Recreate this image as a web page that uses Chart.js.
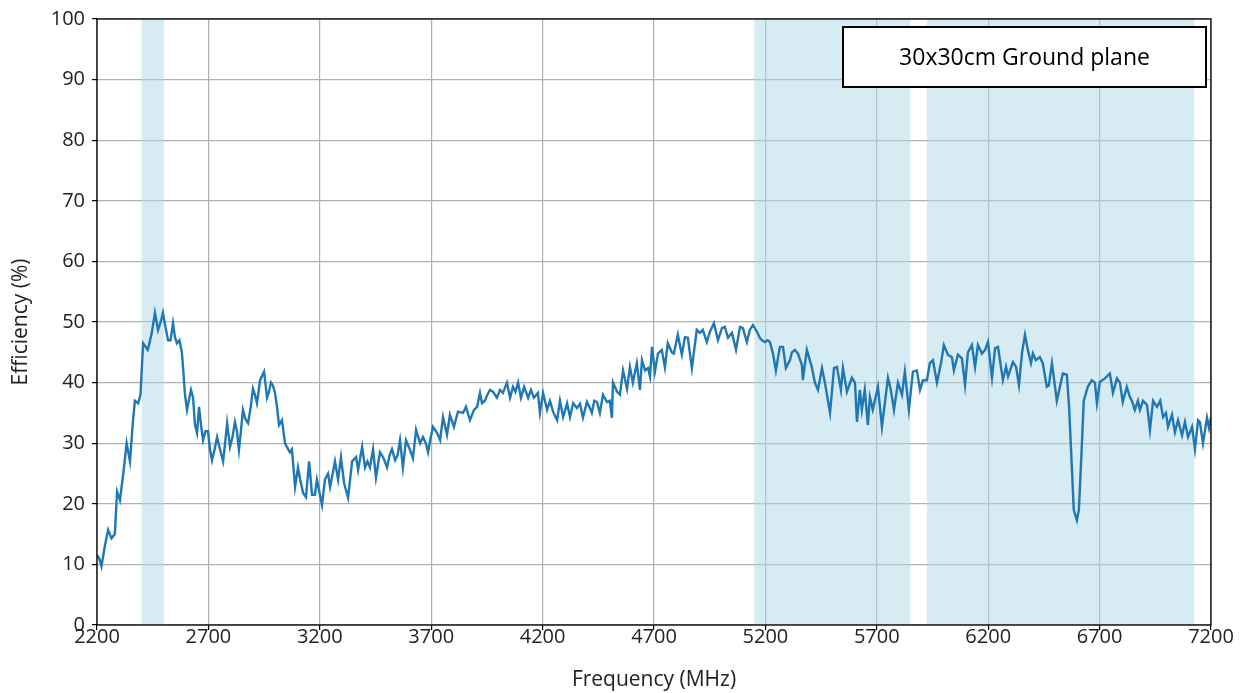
<!DOCTYPE html>
<html>
<head>
<meta charset="utf-8">
<script src="https://cdn.jsdelivr.net/npm/chart.js@4.4.1/dist/chart.umd.min.js"></script>
<style>
  html, body { margin: 0; padding: 0; background: #fff; }
  #wrap { width: 1250px; height: 693px; }
</style>
</head>
<body>
<div id="wrap"><canvas id="myChart" width="1250" height="693"></canvas></div>
<script>
// frequency points (MHz)
const freq = [
  2200, 2210, 2220, 2235, 2250, 2265, 2280, 2290, 2303, 2318, 2333, 2348, 2360, 2370, 2385, 2395,
  2407, 2428, 2445, 2460, 2474, 2486, 2496, 2508, 2519, 2530, 2541, 2550, 2559, 2570, 2581, 2586,
  2595, 2604, 2612, 2622, 2631, 2640, 2649, 2658, 2667, 2676, 2687, 2698, 2707, 2716, 2728, 2739,
  2752, 2766, 2775, 2784, 2797, 2808, 2819, 2828, 2837, 2846, 2855, 2866, 2878, 2890, 2900, 2909,
  2918, 2932, 2950, 2963, 2972, 2981, 2990, 2999, 3008, 3017, 3030, 3044, 3052, 3066, 3075, 3089,
  3102, 3112, 3125, 3138, 3152, 3165, 3178, 3187, 3198, 3210, 3223, 3237, 3246, 3258, 3268, 3282,
  3295, 3309, 3327, 3345, 3363, 3372, 3390, 3403, 3414, 3425, 3439, 3452, 3470, 3484, 3502, 3513,
  3524, 3538, 3549, 3560, 3573, 3587, 3605, 3618, 3632, 3650, 3663, 3676, 3686, 3698, 3708, 3726,
  3740, 3753, 3771, 3784, 3802, 3820, 3843, 3856, 3874, 3892, 3906, 3919, 3928, 3941, 3952, 3964,
  3977, 3995, 4009, 4022, 4040, 4054, 4067, 4078, 4090, 4103, 4117, 4135, 4148, 4161, 4179, 4188,
  4202, 4220, 4233, 4247, 4265, 4278, 4292, 4310, 4323, 4337, 4354, 4368, 4381, 4399, 4410, 4421,
  4432, 4444, 4457, 4471, 4489, 4502, 4511, 4516, 4534, 4547, 4561, 4579, 4592, 4605, 4623, 4637,
  4646, 4660, 4673, 4682, 4691, 4704, 4718, 4735, 4749, 4762, 4780, 4789, 4807, 4825, 4839, 4852,
  4870, 4892, 4906, 4919, 4937, 4951, 4969, 4987, 5005, 5018, 5032, 5050, 5068, 5086, 5099, 5117,
  5130, 5144, 5162, 5176, 5185, 5198, 5210, 5220, 5234, 5247, 5265, 5279, 5292, 5310, 5319, 5332,
  5346, 5364, 5368, 5386, 5408, 5422, 5436, 5454, 5467, 5490, 5508, 5521, 5539, 5548, 5566, 5588,
  5602, 5611, 5624, 5633, 5646, 5660, 5669, 5682, 5705, 5723, 5750, 5763, 5777, 5795, 5813, 5826,
  5844, 5862, 5880, 5894, 5907, 5925, 5938, 5952, 5970, 5988, 6001, 6019, 6037, 6046, 6064, 6082,
  6096, 6109, 6127, 6141, 6154, 6172, 6186, 6199, 6217, 6231, 6244, 6266, 6280, 6289, 6311, 6325,
  6338, 6352, 6365, 6378, 6392, 6401, 6414, 6432, 6445, 6463, 6472, 6486, 6508, 6522, 6535, 6553,
  6563, 6576, 6584, 6598, 6607, 6620, 6629, 6647, 6665, 6679, 6688, 6701, 6724, 6746, 6760, 6778,
  6791, 6804, 6822, 6836, 6845, 6858, 6872, 6881, 6895, 6913, 6926, 6940, 6958, 6972, 6985, 6998,
  7007, 7025, 7038, 7052, 7070, 7083, 7097, 7115, 7128, 7142, 7150, 7164, 7182, 7191, 7200
];

// efficiency (%) at each frequency
const efficiency = [
  11.5, 11, 9.7, 13, 15.7, 14.3, 15, 22, 20.6, 25, 30, 27, 33, 37, 36.6, 38,
  46.5, 45.4, 48, 51.5, 48.7, 50, 51.5, 49, 47, 47, 49.8, 47.5, 46.5, 47, 45, 42.6,
  38, 35.5, 37, 38.8, 37.6, 33, 31.7, 36, 33, 30.5, 32, 32, 29, 27.2, 29, 31,
  29, 27, 30, 33.3, 29.4, 31, 33.5, 32, 28.9, 32, 35.5, 34, 33.3, 36, 39, 38,
  36.6, 40.4, 41.8, 37.5, 38.5, 40, 39.5, 38.3, 36, 33, 33.8, 30, 29.4, 28.5, 29, 22.8,
  26, 24, 21.8, 21.1, 27, 21.5, 21.5, 24, 22, 19.8, 24, 25, 22.8, 25, 27, 24,
  27.7, 23.4, 21, 27, 27.7, 25.6, 29.4, 26, 27, 26, 29, 24.3, 28.5, 27.7, 26, 28,
  29, 27.2, 28, 30.5, 26, 30.5, 28.9, 27.5, 32.2, 30, 31, 30, 28.5, 31, 32.7, 31.7,
  30.5, 34.3, 31.4, 34.7, 32.7, 35.2, 35, 36, 33.8, 35.5, 36, 38.3, 36.6, 37, 38, 38.8,
  38.5, 37.5, 38.8, 38.3, 40, 37.5, 39.3, 38.5, 40, 37.5, 39.3, 37.5, 38.8, 37.5, 38.3, 35,
  38.3, 35.5, 37, 35.2, 33.8, 37, 34.3, 36.6, 34.3, 36.6, 35.8, 36.5, 34.2, 36.8, 36, 35,
  37, 36.8, 35, 38, 36.8, 37, 34.2, 40, 38.5, 38, 42, 39, 42.6, 40, 43.2, 38.8,
  43.7, 42, 42.4, 41, 45.9, 41.8, 44.8, 45.4, 42.5, 46.5, 45, 44.8, 47.9, 44.6, 47.5, 47.4,
  42.4, 48.7, 48.2, 48.7, 46.7, 48.4, 49.8, 47, 49, 49.2, 47.4, 48.2, 45.4, 49.2, 49, 46.7,
  48.7, 49.5, 48.4, 47.3, 47, 46.7, 47, 46.7, 44.8, 42, 45.9, 45.9, 42.4, 43.7, 45, 45.4,
  44.8, 42.9, 40.4, 45.4, 42.6, 40, 38.8, 42.4, 40, 35, 42.4, 42.6, 38.8, 42.4, 38.5, 40.8,
  40, 33.5, 38.8, 35.5, 38.8, 33, 37.6, 35.5, 39.3, 32.7, 40.8, 38.8, 35.5, 40, 38, 41.8,
  35.5, 41.8, 42, 38.8, 40.4, 40.4, 43.2, 43.7, 40, 43.2, 46.2, 44.6, 44.2, 42, 44.6, 44,
  39.6, 45, 46.2, 42.6, 46.2, 44.8, 45.4, 46.7, 40.8, 45.7, 45.9, 40.4, 42.6, 41, 43.4, 42.6,
  39.6, 45, 47.9, 45.4, 43.2, 44.8, 43.7, 44.2, 43.2, 39.3, 39.5, 43.2, 37, 39.3, 41.5, 41.3,
  36, 25.6, 19, 17.3, 19, 29.4, 37, 39.3, 40.4, 40, 36.6, 40.1, 40.7, 41.5, 38.3, 40.7,
  40, 36.8, 39.3, 37.6, 37, 35.5, 37, 35.5, 37, 36.3, 32.2, 37, 36, 37, 34.3, 35,
  32.7, 34.7, 31.8, 33.8, 31.3, 33.5, 31, 32.7, 29, 33.8, 33.5, 30, 34.2, 32.5, 34.3
];

// shaded frequency bands [start, end] in MHz
const bandStart = [2400, 5150, 5925];
const bandEnd = [2500, 5850, 7125];

const xTicks = [2200, 2700, 3200, 3700, 4200, 4700, 5200, 5700, 6200, 6700, 7200];
const yTicks = [0, 10, 20, 30, 40, 50, 60, 70, 80, 90, 100];

const boxText = "30x30cm Ground plane";

const points = freq.map((f, i) => ({ x: f, y: efficiency[i] }));

// light blue spans behind the line
const bandsPlugin = {
  id: "bands",
  beforeDatasetsDraw(chart) {
    const { ctx, chartArea, scales } = chart;
    ctx.save();
    ctx.fillStyle = "rgba(173, 216, 230, 0.5)";
    for (let i = 0; i < bandStart.length; i++) {
      const x0 = scales.x.getPixelForValue(bandStart[i]);
      const x1 = scales.x.getPixelForValue(bandEnd[i]);
      ctx.fillRect(x0, chartArea.top, x1 - x0, chartArea.bottom - chartArea.top);
    }
    ctx.restore();
  }
};

// frame round the plot and the text box top right
const framePlugin = {
  id: "frame",
  afterDraw(chart) {
    const { ctx, chartArea } = chart;
    ctx.save();
    ctx.strokeStyle = "#000";
    ctx.lineWidth = 1.3;
    ctx.strokeRect(chartArea.left, chartArea.top, chartArea.right - chartArea.left, chartArea.bottom - chartArea.top);

    const bx = chartArea.right - 368, by = chartArea.top + 8, bw = 363, bh = 60;
    ctx.fillStyle = "#fff";
    ctx.fillRect(bx, by, bw, bh);
    ctx.lineWidth = 2;
    ctx.strokeRect(bx, by, bw, bh);
    ctx.fillStyle = "#000";
    ctx.font = "23px 'Open Sans', sans-serif";
    ctx.textAlign = "center";
    ctx.textBaseline = "middle";
    ctx.fillText(boxText, bx + bw / 2, by + bh / 2 + 1);
    ctx.restore();
  }
};

new Chart(document.getElementById("myChart").getContext("2d"), {
  type: "line",
  data: {
    datasets: [
      {
        label: "Efficiency",
        data: points,
        borderColor: "#1f77b4",
        borderWidth: 2.4,
        pointRadius: 0,
        tension: 0,
        fill: false
      }
    ]
  },
  options: {
    responsive: false,
    animation: false,
    layout: { padding: { top: 19, right: 39, left: 0, bottom: 0 } },
    plugins: {
      legend: { display: false },
      tooltip: { enabled: false }
    },
    scales: {
      x: {
        type: "linear",
        min: 2200,
        max: 7200,
        afterBuildTicks: (scale) => { scale.ticks = xTicks.map(v => ({ value: v })); },
        afterFit: (scale) => { scale.height = 68; },
        grid: { color: "#b0b0b0", lineWidth: 1.2, tickLength: 5, tickColor: "#000" },
        border: { display: false },
        ticks: {
          color: "#222",
          font: { family: "'Open Sans'", size: 20 },
          padding: -5,
          maxRotation: 0,
          callback: (v) => String(v)
        },
        title: {
          display: true,
          text: "Frequency (MHz)",
          color: "#222",
          font: { family: "'Open Sans'", size: 21 },
          padding: { top: 0, bottom: 0 }
        }
      },
      y: {
        min: 0,
        max: 100,
        afterBuildTicks: (scale) => { scale.ticks = yTicks.map(v => ({ value: v })); },
        afterFit: (scale) => { scale.width = 97; },
        grid: { color: "#b0b0b0", lineWidth: 1.2, tickLength: 5, tickColor: "#000" },
        border: { display: false },
        ticks: {
          color: "#222",
          font: { family: "'Open Sans'", size: 20 },
          padding: 7,
          callback: (v) => String(v)
        },
        title: {
          display: true,
          text: "Efficiency (%)",
          color: "#222",
          font: { family: "'Open Sans'", size: 21 },
          padding: { top: 8, bottom: 0 }
        }
      }
    }
  },
  plugins: [bandsPlugin, framePlugin]
});
</script>
</body>
</html>
